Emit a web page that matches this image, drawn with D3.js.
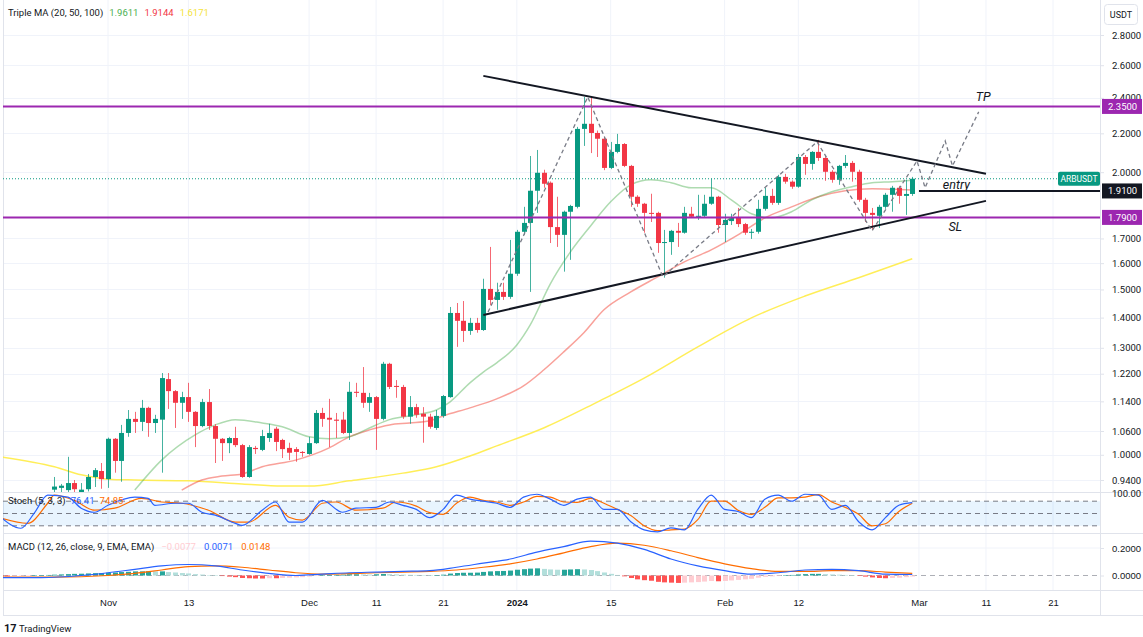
<!DOCTYPE html>
<html><head><meta charset="utf-8">
<script src="https://cdn.jsdelivr.net/npm/d3@7"></script>
<style>
body{margin:0;background:#fff;}
svg{display:block;font-family:Roboto,"Liberation Sans",sans-serif;}
</style></head>
<body><svg id="c" width="1143" height="637"></svg>
<script>
// ---------------- DATA ----------------
const candleStart = "2023-10-24"; // one candle per day
const opens  = [0.918,0.922,0.917,0.933,0.905,0.919,0.947,0.961,0.942,1.040,0.985,1.055,1.092,1.084,1.122,1.081,1.090,1.204,1.169,1.136,1.152,1.111,1.073,1.138,1.073,1.040,1.029,1.042,1.024,0.947,1.017,1.012,1.042,1.066,1.037,1.017,1.014,1.007,1.002,1.029,1.108,1.095,1.090,1.090,1.055,1.167,1.164,1.136,1.152,1.092,1.250,1.184,1.181,1.098,1.124,1.106,1.098,1.068,1.100,1.152,1.416,1.389,1.355,1.382,1.358,1.502,1.462,1.491,1.473,1.559,1.728,1.766,1.911,1.997,1.949,1.748,1.715,1.815,1.837,2.224,2.252,2.202,2.171,2.021,2.102,2.143,2.031,1.883,1.851,1.810,1.810,1.681,1.685,1.732,1.724,1.806,1.793,1.797,1.851,1.883,1.757,1.774,1.788,1.761,1.724,1.728,1.828,1.887,1.855,1.977,1.954,1.930,2.076,2.041,2.102,2.071,2.002,1.963,2.031,2.046,2.002,1.869,1.810,1.797,1.837,1.892,1.925,1.887,1.896];
const highs  = [0.947,0.931,0.995,0.940,0.933,0.954,0.968,0.980,1.043,1.042,1.076,1.116,1.111,1.144,1.125,1.103,1.222,1.222,1.172,1.167,1.193,1.113,1.147,1.175,1.078,1.042,1.045,1.071,1.027,1.024,1.022,1.063,1.079,1.071,1.040,1.030,1.019,1.009,1.045,1.116,1.122,1.147,1.108,1.111,1.196,1.193,1.240,1.164,1.155,1.256,1.253,1.201,1.187,1.155,1.133,1.124,1.106,1.116,1.158,1.437,1.451,1.458,1.399,1.399,1.540,1.665,1.525,1.525,1.694,1.736,1.837,2.081,2.112,2.012,1.955,1.883,1.820,1.846,2.235,2.405,2.405,2.215,2.181,2.154,2.197,2.148,2.036,1.890,1.855,1.897,1.815,1.736,1.736,1.766,1.837,1.837,1.892,1.892,1.968,1.887,1.806,1.806,1.832,1.766,1.740,1.869,1.925,1.920,1.987,1.992,1.960,2.091,2.086,2.106,2.165,2.081,2.010,2.036,2.086,2.056,2.012,1.878,1.832,1.846,1.901,1.934,1.934,1.963,1.977];
const lows   = [0.905,0.910,0.905,0.905,0.900,0.914,0.924,0.920,0.922,0.957,0.936,1.045,1.055,1.060,1.045,1.055,0.957,1.119,1.068,1.092,1.084,1.019,1.070,1.063,0.980,0.985,1.004,1.019,0.945,0.945,1.002,1.009,1.032,1.009,0.992,0.987,0.983,0.995,1.000,1.027,1.071,1.019,1.042,1.052,1.037,1.152,1.122,1.111,1.012,1.088,1.175,1.150,1.092,1.079,1.095,1.030,1.066,1.063,1.095,1.150,1.303,1.319,1.342,1.349,1.355,1.444,1.427,1.462,1.466,1.551,1.715,1.491,1.810,1.925,1.681,1.665,1.567,1.613,1.830,2.133,2.096,2.076,2.010,2.015,2.095,2.025,1.837,1.837,1.724,1.770,1.641,1.544,1.633,1.665,1.720,1.788,1.779,1.790,1.846,1.724,1.685,1.757,1.748,1.715,1.698,1.720,1.820,1.846,1.846,1.944,1.920,1.925,1.987,2.012,2.056,1.958,1.949,1.939,2.020,1.954,1.860,1.770,1.736,1.744,1.828,1.815,1.851,1.801,1.887];
const closes = [0.925,0.927,0.933,0.919,0.918,0.947,0.963,0.942,1.040,0.985,1.055,1.092,1.084,1.122,1.081,1.092,1.207,1.169,1.136,1.152,1.111,1.073,1.138,1.073,1.040,1.029,1.042,1.024,0.947,1.019,1.014,1.047,1.055,1.032,1.014,1.005,1.007,1.005,1.029,1.108,1.092,1.090,1.087,1.055,1.167,1.164,1.136,1.152,1.092,1.250,1.181,1.181,1.098,1.124,1.103,1.098,1.071,1.100,1.155,1.416,1.389,1.355,1.382,1.358,1.502,1.462,1.491,1.473,1.559,1.728,1.766,1.911,1.997,1.944,1.748,1.715,1.815,1.841,2.224,2.252,2.202,2.171,2.021,2.102,2.143,2.031,1.883,1.851,1.810,1.806,1.681,1.685,1.732,1.724,1.810,1.793,1.797,1.851,1.883,1.757,1.779,1.788,1.761,1.724,1.728,1.828,1.887,1.855,1.977,1.954,1.930,2.076,2.041,2.102,2.071,2.002,1.963,2.031,2.046,2.002,1.869,1.810,1.801,1.837,1.892,1.925,1.887,1.896,1.968];

const ma20 = [["2023-11-05",0.917],["2023-11-09",0.987],["2023-11-14",1.050],["2023-11-17",1.076],["2023-11-20",1.090],["2023-11-24",1.081],["2023-11-27",1.071],["2023-12-01",1.045],["2023-12-04",1.040],["2023-12-07",1.045],["2023-12-10",1.068],["2023-12-13",1.090],["2023-12-17",1.103],["2023-12-20",1.116],["2023-12-22",1.138],["2023-12-25",1.193],["2023-12-27",1.225],["2023-12-29",1.253],["2024-01-01",1.309],["2024-01-03",1.375],["2024-01-06",1.521],["2024-01-09",1.645],["2024-01-12",1.753],["2024-01-15",1.860],["2024-01-18",1.939],["2024-01-21",1.963],["2024-01-24",1.949],["2024-01-27",1.925],["2024-01-30",1.925],["2024-02-02",1.869],["2024-02-05",1.806],["2024-02-08",1.788],["2024-02-11",1.815],["2024-02-14",1.869],["2024-02-17",1.906],["2024-02-20",1.930],["2024-02-23",1.949],["2024-02-26",1.954],["2024-02-29",1.9611]];
const ma50 = [["2023-11-12",0.917],["2023-11-15",0.940],["2023-11-18",0.949],["2023-11-21",0.954],["2023-11-24",0.971],["2023-11-29",0.987],["2023-12-04",1.017],["2023-12-07",1.045],["2023-12-10",1.063],["2023-12-13",1.076],["2023-12-16",1.081],["2023-12-19",1.087],["2023-12-21",1.100],["2023-12-25",1.122],["2023-12-29",1.147],["2024-01-02",1.184],["2024-01-05",1.231],["2024-01-08",1.287],["2024-01-11",1.349],["2024-01-14",1.427],["2024-01-18",1.491],["2024-01-22",1.547],["2024-01-26",1.605],["2024-01-30",1.653],["2024-02-03",1.715],["2024-02-07",1.788],["2024-02-11",1.837],["2024-02-15",1.883],["2024-02-19",1.911],["2024-02-23",1.920],["2024-02-26",1.918],["2024-02-29",1.9144]];
const ma100 = [["2023-10-16",0.995],["2023-10-24",0.971],["2023-10-28",0.952],["2023-11-01",0.942],["2023-11-05",0.940],["2023-11-13",0.938],["2023-11-21",0.931],["2023-11-27",0.926],["2023-12-01",0.926],["2023-12-07",0.938],["2023-12-15",0.956],["2023-12-20",0.971],["2023-12-25",0.997],["2023-12-29",1.022],["2024-01-05",1.068],["2024-01-13",1.138],["2024-01-20",1.207],["2024-01-28",1.303],["2024-02-05",1.399],["2024-02-13",1.476],["2024-02-21",1.544],["2024-02-29",1.6171]];

const stochK = [["2023-10-16",41],["2023-10-19",14],["2023-10-21",51],["2023-10-23",95],["2023-10-26",90],["2023-10-28",63],["2023-10-30",53],["2023-11-01",70],["2023-11-05",90],["2023-11-07",87],["2023-11-08",70],["2023-11-11",75],["2023-11-13",75],["2023-11-15",53],["2023-11-17",46],["2023-11-20",26],["2023-11-21",21],["2023-11-24",58],["2023-11-26",78],["2023-11-28",29],["2023-11-30",29],["2023-12-03",82],["2023-12-06",53],["2023-12-08",63],["2023-12-11",65],["2023-12-13",78],["2023-12-15",70],["2023-12-17",60],["2023-12-19",40],["2023-12-21",60],["2023-12-23",95],["2023-12-25",85],["2023-12-27",80],["2023-12-29",75],["2023-12-31",65],["2024-01-02",90],["2024-01-04",97],["2024-01-06",85],["2024-01-08",70],["2024-01-10",85],["2024-01-12",90],["2024-01-14",60],["2024-01-16",60],["2024-01-18",30],["2024-01-20",10],["2024-01-22",5],["2024-01-24",15],["2024-01-26",10],["2024-01-28",60],["2024-01-30",95],["2024-02-01",60],["2024-02-03",55],["2024-02-05",40],["2024-02-07",85],["2024-02-09",95],["2024-02-11",80],["2024-02-13",97],["2024-02-15",95],["2024-02-17",60],["2024-02-19",70],["2024-02-21",30],["2024-02-23",10],["2024-02-25",40],["2024-02-27",70],["2024-02-29",76.41]];
const stochD = [["2023-10-16",39],["2023-10-20",26],["2023-10-23",75],["2023-10-24",95],["2023-10-27",82],["2023-10-30",58],["2023-11-02",63],["2023-11-06",87],["2023-11-09",78],["2023-11-12",75],["2023-11-16",58],["2023-11-20",29],["2023-11-22",29],["2023-11-26",70],["2023-11-28",41],["2023-11-30",34],["2023-12-03",75],["2023-12-05",78],["2023-12-08",58],["2023-12-12",63],["2023-12-14",78],["2023-12-17",68],["2023-12-19",52],["2023-12-21",48],["2023-12-23",75],["2023-12-25",90],["2023-12-27",82],["2023-12-29",78],["2023-12-31",70],["2024-01-02",78],["2024-01-04",92],["2024-01-06",90],["2024-01-08",78],["2024-01-10",77],["2024-01-12",87],["2024-01-14",75],["2024-01-16",60],["2024-01-18",45],["2024-01-20",20],["2024-01-22",8],["2024-01-24",10],["2024-01-26",12],["2024-01-28",35],["2024-01-30",80],["2024-02-01",80],["2024-02-03",58],["2024-02-05",48],["2024-02-07",65],["2024-02-09",88],["2024-02-11",88],["2024-02-13",90],["2024-02-15",96],["2024-02-17",78],["2024-02-19",65],["2024-02-21",48],["2024-02-23",20],["2024-02-25",25],["2024-02-27",55],["2024-02-29",74.85]];

const macdLine = [["2023-10-16",-0.015],["2023-10-22",-0.015],["2023-10-28",0.0],["2023-11-01",0.02],["2023-11-05",0.045],["2023-11-09",0.07],["2023-11-13",0.08],["2023-11-17",0.07],["2023-11-21",0.04],["2023-11-25",0.015],["2023-11-29",0.0],["2023-12-03",0.01],["2023-12-07",0.02],["2023-12-11",0.025],["2023-12-15",0.03],["2023-12-19",0.035],["2023-12-23",0.06],["2023-12-27",0.09],["2023-12-31",0.12],["2024-01-04",0.17],["2024-01-08",0.21],["2024-01-12",0.25],["2024-01-16",0.235],["2024-01-20",0.19],["2024-01-24",0.12],["2024-01-28",0.07],["2024-02-01",0.035],["2024-02-05",0.01],["2024-02-09",0.02],["2024-02-13",0.04],["2024-02-17",0.045],["2024-02-21",0.035],["2024-02-25",0.01],["2024-02-29",0.0071]];
const macdSignal = [["2023-10-16",-0.012],["2023-10-24",-0.012],["2023-11-01",0.0],["2023-11-05",0.015],["2023-11-09",0.04],["2023-11-13",0.065],["2023-11-17",0.07],["2023-11-21",0.06],["2023-11-25",0.04],["2023-11-29",0.02],["2023-12-03",0.01],["2023-12-07",0.013],["2023-12-11",0.02],["2023-12-15",0.025],["2023-12-19",0.03],["2023-12-23",0.04],["2023-12-27",0.06],["2023-12-31",0.085],["2024-01-04",0.12],["2024-01-08",0.165],["2024-01-12",0.21],["2024-01-16",0.235],["2024-01-20",0.22],["2024-01-24",0.18],["2024-01-28",0.13],["2024-02-01",0.085],["2024-02-05",0.05],["2024-02-09",0.03],["2024-02-13",0.03],["2024-02-17",0.035],["2024-02-21",0.035],["2024-02-25",0.025],["2024-02-29",0.0148]];
const histStart = "2023-10-16";
const macdHist = [-0.006,-0.006,-0.005,-0.004,-0.002,0.001,0.003,0.004,0.006,0.008,0.01,0.012,0.013,0.015,0.017,0.018,0.02,0.022,0.025,0.027,0.03,0.03,0.031,0.03,0.03,0.025,0.022,0.018,0.015,0.01,0.007,0.003,0.0,-0.004,-0.008,-0.012,-0.018,-0.02,-0.022,-0.022,-0.02,-0.02,-0.018,-0.016,-0.014,-0.012,-0.008,-0.002,0.002,0.004,0.005,0.006,0.009,0.009,0.008,0.007,0.009,0.011,0.01,0.008,0.006,0.005,0.004,0.003,0.002,0.003,0.006,0.014,0.018,0.02,0.02,0.021,0.026,0.03,0.032,0.033,0.036,0.042,0.046,0.05,0.052,0.048,0.044,0.042,0.042,0.044,0.046,0.044,0.04,0.032,0.022,0.012,0.004,-0.006,-0.018,-0.028,-0.034,-0.038,-0.046,-0.05,-0.052,-0.054,-0.052,-0.05,-0.048,-0.044,-0.04,-0.042,-0.04,-0.036,-0.032,-0.028,-0.024,-0.016,-0.01,-0.006,-0.002,0.002,0.004,0.008,0.01,0.012,0.012,0.01,0.008,0.006,0.004,0.002,-0.002,-0.008,-0.014,-0.018,-0.02,-0.018,-0.016,-0.012,-0.0077];

const priceTicks = [2.8,2.6,2.4,2.2,2.0,1.7,1.6,1.5,1.4,1.3,1.22,1.14,1.06,1.0,0.94];
const timeTickDates = ["2023-11-01","2023-11-13","2023-12-01","2023-12-11","2023-12-21","2024-01-01","2024-01-15","2024-02-01","2024-02-12","2024-03-01","2024-03-11","2024-03-21"];
const timeTickLabels = ["Nov","13","Dec","11","21","2024","15","Feb","12","Mar","11","21"];

const levels = [{p:2.35,label:"2.3500",color:"#9c27b0"},{p:1.79,label:"1.7900",color:"#9c27b0"}];
const entryLevel = {p:1.91,label:"1.9100",from:"2024-03-01T00:00"};
const triUpper = [["2023-12-27T00:00",2.533],["2024-03-11T00:00",1.992]];
const triLower = [["2023-12-27T00:00",1.409],["2024-03-11T00:00",1.864]];
const zigzag = [["2023-12-27T17:00",1.419],["2024-01-11T14:00",2.405],["2024-01-22T19:00",1.547],["2024-02-14T19:00",2.154],["2024-02-23T00:00",1.732],["2024-02-29T17:00",2.056],["2024-03-01T22:00",1.925],["2024-03-04T22:00",2.159],["2024-03-06T00:00",2.031],["2024-03-09T22:00",2.319]];
const notes = [{t:"TP",d:"2024-03-10T14:00",p:2.40},{t:"entry",d:"2024-03-06T14:00",p:1.934},{t:"SL",d:"2024-03-06T10:00",p:1.744}];

// ---------------- CHART ----------------
const FS = 9.5;
const parse = s => new Date(s.length===10 ? s+"T00:00:00Z" : s+":00Z");
const svg = d3.select("#c");
const R = 1100; // right edge of plot
const x = d3.scaleUtc().domain([parse("2023-11-01"),parse("2024-03-21")]).range([108,1053]);
const y = d3.scaleLog().domain([2.8,0.94]).range([35,480]);
const yS = d3.scaleLinear().domain([0,100]).range([534,493]);
const yM = d3.scaleLinear().domain([0,0.2]).range([575.5,548]);

const defs = svg.append("defs");
defs.append("clipPath").attr("id","cm").append("rect").attr("x",3).attr("y",0).attr("width",R-3).attr("height",492);
defs.append("clipPath").attr("id","cs").append("rect").attr("x",3).attr("y",493).attr("width",R-3).attr("height",40);
defs.append("clipPath").attr("id","cd").append("rect").attr("x",3).attr("y",534).attr("width",R-3).attr("height",56);

const gridC = "#f0f3fa";
svg.append("g").selectAll("line").data(timeTickDates).join("line")
  .attr("x1",d=>x(parse(d))).attr("x2",d=>x(parse(d))).attr("y1",0).attr("y2",590)
  .attr("stroke",gridC).attr("stroke-width",1);
svg.append("g").selectAll("line").data(priceTicks).join("line")
  .attr("x1",3).attr("x2",R).attr("y1",d=>Math.round(y(d))+0.5).attr("y2",d=>Math.round(y(d))+0.5)
  .attr("stroke",gridC);
svg.append("line").attr("x1",3).attr("x2",R).attr("y1",yM(0.2)).attr("y2",yM(0.2)).attr("stroke",gridC);

const sepC = "#e0e3eb";
[492.5,533.5,590.5,615.5].forEach(v=>svg.append("line").attr("x1",3).attr("x2",1143).attr("y1",v).attr("y2",v).attr("stroke",sepC));
svg.append("line").attr("x1",3.5).attr("x2",3.5).attr("y1",0).attr("y2",615).attr("stroke",sepC);
svg.append("line").attr("x1",R+0.5).attr("x2",R+0.5).attr("y1",0).attr("y2",615).attr("stroke",sepC);

// ---- main pane
const gm = svg.append("g").attr("clip-path","url(#cm)");
const days = closes.map((c,i)=>d3.utcDay.offset(parse(candleStart),i));

const lineP = d3.line().x(d=>x(parse(d[0]))).y(d=>y(d[1])).curve(d3.curveMonotoneX);
gm.append("path").attr("d",lineP(ma100)).attr("fill","none").attr("stroke","#ffeb3b").attr("stroke-width",1.5).attr("opacity",0.85);
gm.append("path").attr("d",lineP(ma50)).attr("fill","none").attr("stroke","#f44336").attr("stroke-width",1.5).attr("opacity",0.5);
gm.append("path").attr("d",lineP(ma20)).attr("fill","none").attr("stroke","#4caf50").attr("stroke-width",1.5).attr("opacity",0.45);

gm.append("line").attr("x1",3).attr("x2",R).attr("y1",y(closes[closes.length-1])).attr("y2",y(closes[closes.length-1]))
  .attr("stroke","#089981").attr("stroke-dasharray","1,2").attr("stroke-width",1);

const up="#089981", dn="#f23645";
const cg = gm.append("g").selectAll("g").data(closes.map((c,i)=>({d:days[i],o:opens[i],h:highs[i],l:lows[i],c:c}))).join("g");
cg.append("line").attr("x1",d=>Math.round(x(d.d))+0.5).attr("x2",d=>Math.round(x(d.d))+0.5)
  .attr("y1",d=>y(d.h)).attr("y2",d=>y(d.l)).attr("stroke",d=>d.c>=d.o?up:dn).attr("stroke-width",1).attr("opacity",0.75);
cg.append("rect").attr("x",d=>Math.round(x(d.d))-2).attr("width",5)
  .attr("y",d=>y(Math.max(d.o,d.c))).attr("height",d=>Math.max(1,Math.abs(y(d.o)-y(d.c))))
  .attr("fill",d=>d.c>=d.o?up:dn);

levels.forEach(l=>{
  gm.append("line").attr("x1",3).attr("x2",R).attr("y1",y(l.p)).attr("y2",y(l.p)).attr("stroke",l.color).attr("stroke-width",2);
});
const lineA = d3.line().x(d=>x(parse(d[0]))).y(d=>y(d[1]));
gm.append("path").attr("d",lineA(triUpper)).attr("stroke","#131722").attr("stroke-width",2).attr("fill","none");
gm.append("path").attr("d",lineA(triLower)).attr("stroke","#131722").attr("stroke-width",2).attr("fill","none");
gm.append("line").attr("x1",x(parse(entryLevel.from))).attr("x2",R).attr("y1",y(entryLevel.p)).attr("y2",y(entryLevel.p)).attr("stroke","#131722").attr("stroke-width",2);
gm.append("path").attr("d",lineA(zigzag)).attr("stroke","#787b86").attr("stroke-width",1.3).attr("stroke-dasharray","4,3").attr("fill","none");
notes.forEach(n=>{
  gm.append("text").attr("x",x(parse(n.d))).attr("y",y(n.p)).attr("text-anchor","middle").attr("dominant-baseline","middle")
   .attr("font-size",12.5).attr("font-style","italic").attr("fill","#131722").text(n.t);
});

const lastY = y(closes[closes.length-1]);
svg.append("rect").attr("x",1058).attr("y",lastY-7).attr("width",42).attr("height",14).attr("rx",2).attr("fill","#089981");
svg.append("text").attr("x",1079).attr("y",lastY).attr("text-anchor","middle").attr("dominant-baseline","central").attr("font-size",8.5).attr("fill","#fff").text("ARBUSDT");

const ax = svg.append("g").attr("transform",`translate(${R},0)`)
  .call(d3.axisRight(y).tickValues(priceTicks).tickFormat(d3.format(".4f")).tickSize(4).tickPadding(8));
ax.select(".domain").remove();
ax.selectAll("line").attr("stroke",sepC);
ax.selectAll("text").attr("font-size",FS).attr("fill","#131722").attr("font-family","Roboto,sans-serif");

function axisBox(p,label,color){
  const yy=y(p);
  svg.append("rect").attr("x",R+2).attr("y",yy-7.5).attr("width",40).attr("height",15).attr("fill",color);
  svg.append("text").attr("x",R+8).attr("y",yy).attr("dominant-baseline","central").attr("font-size",FS).attr("fill","#fff").text(label);
}
levels.forEach(l=>axisBox(l.p,l.label,l.color));
axisBox(entryLevel.p,entryLevel.label,"#131722");

svg.append("rect").attr("x",1104.5).attr("y",4.5).attr("width",33).attr("height",20).attr("rx",3).attr("fill","#fff").attr("stroke",sepC);
svg.append("text").attr("x",1121).attr("y",15).attr("text-anchor","middle").attr("dominant-baseline","central").attr("font-size",9).attr("fill","#131722").text("USDT");

const lg = svg.append("text").attr("x",8).attr("y",15.5).attr("font-size",FS);
lg.append("tspan").attr("fill","#131722").text("Triple MA (20, 50, 100)");
lg.append("tspan").attr("fill","#4caf50").attr("dx",6).text(d3.format(".4f")(ma20[ma20.length-1][1]));
lg.append("tspan").attr("fill","#f23645").attr("dx",6).text(d3.format(".4f")(ma50[ma50.length-1][1]));
lg.append("tspan").attr("fill","#f5e33a").attr("dx",6).text(d3.format(".4f")(ma100[ma100.length-1][1]));

// ---- stochastic pane
const gs = svg.append("g").attr("clip-path","url(#cs)");
gs.append("rect").attr("x",3).attr("width",R-3).attr("y",yS(80)).attr("height",yS(20)-yS(80)).attr("fill","#2196f3").attr("opacity",0.1);
[80,50,20].forEach(v=>gs.append("line").attr("x1",3).attr("x2",R).attr("y1",yS(v)).attr("y2",yS(v)).attr("stroke","#787b86").attr("stroke-dasharray","5,4").attr("stroke-width",1));
const lineS = d3.line().x(d=>x(parse(d[0]))).y(d=>yS(d[1])).curve(d3.curveMonotoneX);
gs.append("path").attr("d",lineS(stochD)).attr("fill","none").attr("stroke","#ff6d00").attr("stroke-width",1.2);
gs.append("path").attr("d",lineS(stochK)).attr("fill","none").attr("stroke","#2962ff").attr("stroke-width",1.2);
const sl = svg.append("text").attr("x",8).attr("y",504).attr("font-size",FS);
sl.append("tspan").attr("fill","#131722").text("Stoch (5, 3, 3)");
sl.append("tspan").attr("fill","#2962ff").attr("dx",5).text(d3.format(".2f")(stochK[stochK.length-1][1]));
sl.append("tspan").attr("fill","#ff6d00").attr("dx",5).text(d3.format(".2f")(stochD[stochD.length-1][1]));
svg.append("text").attr("x",R+12).attr("y",yS(100)).attr("dominant-baseline","central").attr("font-size",FS).attr("fill","#131722").text("100.00");

// ---- MACD pane
const gd = svg.append("g").attr("clip-path","url(#cd)");
gd.append("line").attr("x1",3).attr("x2",R).attr("y1",yM(0)).attr("y2",yM(0)).attr("stroke","#787b86").attr("stroke-dasharray","5,4").attr("opacity",0.6);
const hdata = macdHist.map((v,i)=>({d:d3.utcDay.offset(parse(histStart),i),v:v,prev:i>0?macdHist[i-1]:v}));
gd.append("g").selectAll("rect").data(hdata).join("rect")
  .attr("x",d=>Math.round(x(d.d))-2).attr("width",5)
  .attr("y",d=>Math.min(yM(d.v),yM(0))).attr("height",d=>Math.max(0.5,Math.abs(yM(d.v)-yM(0))))
  .attr("fill",d=>d.v>=0 ? (d.v>=d.prev?"#26a69a":"#b2dfdb") : (d.v<=d.prev?"#ff5252":"#ffcdd2"));
const lineM = d3.line().x(d=>x(parse(d[0]))).y(d=>yM(d[1])).curve(d3.curveMonotoneX);
gd.append("path").attr("d",lineM(macdSignal)).attr("fill","none").attr("stroke","#ff6d00").attr("stroke-width",1.2);
gd.append("path").attr("d",lineM(macdLine)).attr("fill","none").attr("stroke","#2962ff").attr("stroke-width",1.2);
const ml = svg.append("text").attr("x",8).attr("y",549.5).attr("font-size",FS);
ml.append("tspan").attr("fill","#131722").text("MACD (12, 26, close, 9, EMA, EMA)");
ml.append("tspan").attr("fill","#ffcdd2").attr("dx",7).text(d3.format(".4f")(macdHist[macdHist.length-1]).replace("-","\u2212"));
ml.append("tspan").attr("fill","#2962ff").attr("dx",8).text(d3.format(".4f")(macdLine[macdLine.length-1][1]));
ml.append("tspan").attr("fill","#ff6d00").attr("dx",8).text(d3.format(".4f")(macdSignal[macdSignal.length-1][1]));
const axm = svg.append("g").attr("transform",`translate(${R},0)`)
  .call(d3.axisRight(yM).tickValues([0.2,0]).tickFormat(d3.format(".4f")).tickSize(4).tickPadding(8));
axm.select(".domain").remove();
axm.selectAll("line").attr("stroke",sepC);
axm.selectAll("text").attr("font-size",FS).attr("fill","#131722");

// ---- time axis
const axt = svg.append("g").attr("transform","translate(0,591)")
  .call(d3.axisBottom(x).tickValues(timeTickDates.map(parse)).tickFormat((d,i)=>timeTickLabels[i]).tickSize(0).tickPadding(8));
axt.select(".domain").remove();
axt.selectAll("text").attr("font-size",FS).attr("fill","#131722")
  .attr("font-weight",(d,i)=>timeTickLabels[i]==="2024"?"bold":"normal");

// TradingView mark
svg.append("text").attr("x",4).attr("y",632).attr("font-size",11).attr("font-weight","bold").attr("fill","#131722").text("17");
svg.append("text").attr("x",19).attr("y",632).attr("font-size",FS).attr("fill","#131722").text("TradingView");
</script>
</body></html>
